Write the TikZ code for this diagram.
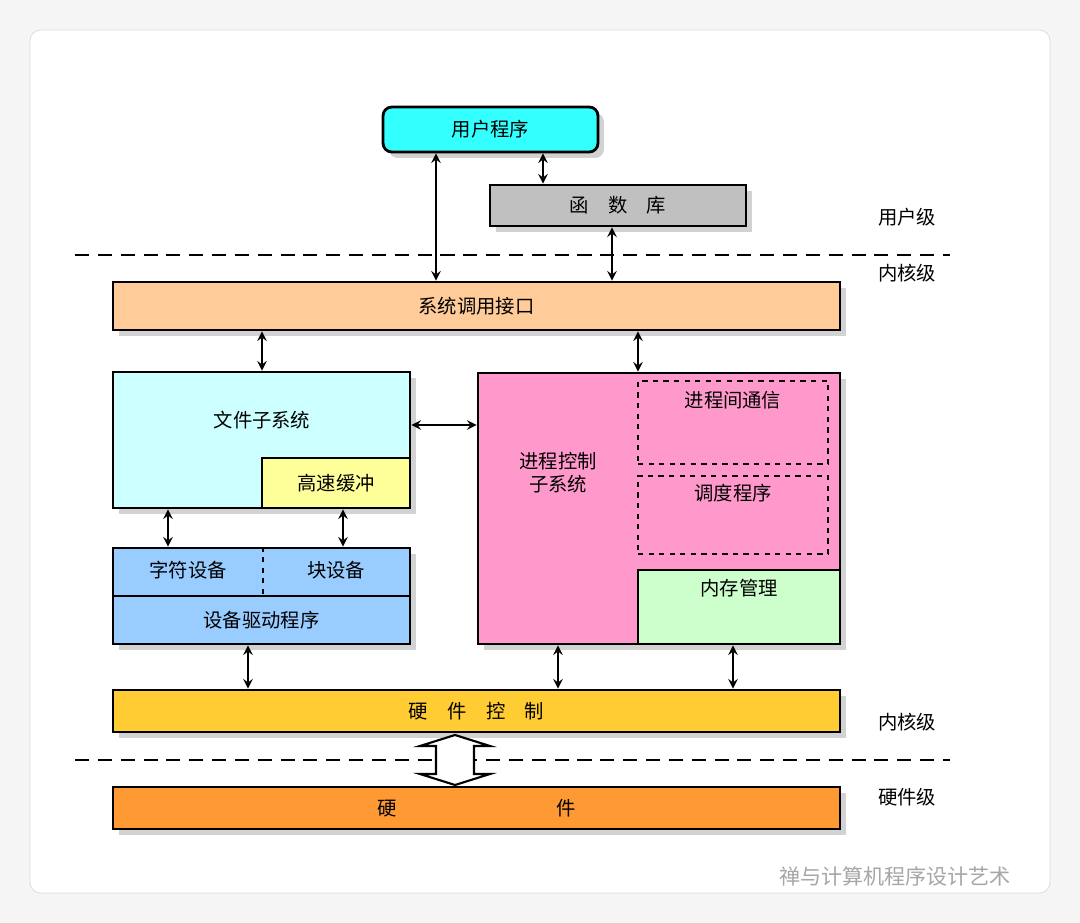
\documentclass[tikz,border=0pt]{standalone}
\usepackage{fontspec}
\setmainfont{Noto Sans CJK SC}
\usepackage{xcolor}
\usetikzlibrary{arrows,shapes,positioning,shadows,calc}
\definecolor{cyanbox}{HTML}{33FFFF}
\definecolor{libgray}{HTML}{C0C0C0}
\definecolor{peach}{HTML}{FFCC99}
\definecolor{filecyan}{HTML}{CCFFFF}
\definecolor{bufyellow}{HTML}{FFFF99}
\definecolor{devblue}{HTML}{99CCFF}
\definecolor{procpink}{HTML}{FF99CC}
\definecolor{memgreen}{HTML}{CCFFCC}
\definecolor{hwgold}{HTML}{FFCC33}
\definecolor{hworange}{HTML}{FF9933}
\tikzset{
  blk/.style={draw, line width=1.6pt, inner sep=0pt, drop shadow={opacity=0.35, shadow xshift=0.12cm, shadow yshift=-0.12cm}},
  sub/.style={draw, line width=1.6pt, inner sep=0pt},
  dbox/.style={draw, dashed, line width=1.2pt, inner sep=0pt},
  lbl/.style={font=\fontsize{11}{13}\selectfont},
  lvl/.style={font=\fontsize{11}{13}\selectfont},
  sep/.style={dashed, line width=1.4pt, dash pattern=on 8pt off 5pt},
  link/.style={<->, >=stealth, line width=1.4pt}
}
\begin{document}
\begin{tikzpicture}[x=0.02cm, y=-0.02cm]
    \useasboundingbox (0,0) rectangle (1080,923);
    \fill[gray!8] (0,0) rectangle (1080,923);
    \draw[gray!30, fill=white, rounded corners=6pt] (30,30) rectangle (1050,893);

    % User level
    \node[blk, fill=cyanbox, rounded corners=5pt, minimum width=4.3cm, minimum height=0.9cm, lbl] (userprog) at (490.5,129.5) {用户程序};
    \node[blk, fill=libgray, minimum width=5.12cm, minimum height=0.82cm, lbl] (lib) at (618,205.5) {函\quad 数\quad 库};
    \node[lvl] (lvuser) at (907,217) {用户级};
    \coordinate (sepa) at (75,255);
    \coordinate (sepb) at (950,255);
    \draw[sep] (sepa) -- (sepb);
    \node[lvl] (lvkern) at (907,273) {内核级};

    % Kernel level
    \node[blk, fill=peach, minimum width=14.54cm, minimum height=0.96cm, lbl] (syscall) at (476.5,306) {系统调用接口};
    \node[blk, fill=filecyan, minimum width=5.94cm, minimum height=2.72cm] (filesys) at (261.5,440) {};
    \node[lbl] (filelbl) at (262,420) {文件子系统};
    \node[sub, fill=bufyellow, minimum width=2.96cm, minimum height=1.0cm, lbl] (cache) at (336,483) {高速缓冲};
    \node[blk, fill=devblue, minimum width=5.94cm, minimum height=0.96cm] (devs) at (261.5,572) {};
    \node[lbl] (chardev) at (188,570) {字符设备};
    \node[lbl] (blockdev) at (336,570) {块设备};
    \draw[dashed, line width=1.2pt] (devs.north -| 263,0) -- (devs.south -| 263,0);
    \node[blk, fill=devblue, minimum width=5.94cm, minimum height=0.96cm, lbl] (driver) at (261.5,620) {设备驱动程序};

    \node[blk, fill=procpink, minimum width=7.24cm, minimum height=5.42cm] (proc) at (659,508.5) {};
    \node[lbl, align=center] (proclbl) at (558,473) {进程控制\\子系统};
    \node[dbox, minimum width=3.8cm, minimum height=1.66cm] (ipc) at (733,422.5) {};
    \node[lbl] (ipclbl) at (733,400) {进程间通信};
    \node[dbox, minimum width=3.8cm, minimum height=1.56cm] (sched) at (733,515) {};
    \node[lbl] (schedlbl) at (733,493) {调度程序};
    \node[sub, fill=memgreen, minimum width=4.04cm, minimum height=1.48cm] (mem) at (739,607) {};
    \node[lbl] (memlbl) at (739,588) {内存管理};

    \node[blk, fill=hwgold, minimum width=14.54cm, minimum height=0.84cm, lbl] (hwctl) at (476.5,711) {硬\quad 件\quad 控\quad 制};
    \node[lvl] (lvkern2) at (907,722) {内核级};
    \coordinate (sepc) at (75,760);
    \coordinate (sepd) at (950,760);
    \draw[sep] (sepc) -- (sepd);

    % Hardware level
    \node[blk, fill=hworange, minimum width=14.54cm, minimum height=0.84cm, lbl] (hw) at (476.5,808) {硬\hspace{3.2cm}件};
    \node[lvl] (lvhw) at (907,797) {硬件级};
    \draw[line width=1.2pt, fill=white]
      (455,735) -- (490,746) -- (474,746) -- (474,774) -- (490,774) -- (455,785)
      -- (420,774) -- (436,774) -- (436,746) -- (420,746) -- cycle;

    % Connect nodes
    \draw[link] (userprog.south -| 436,0) -- (syscall.north -| 436,0);
    \draw[link] (userprog.south -| 543,0) -- (lib.north -| 543,0);
    \draw[link] (lib.south -| 612,0) -- (syscall.north -| 612,0);
    \draw[link] (syscall.south -| 262,0) -- (filesys.north -| 262,0);
    \draw[link] (syscall.south -| 638,0) -- (proc.north -| 638,0);
    \draw[link] (filesys.east |- 0,425) -- (proc.west |- 0,425);
    \draw[link] (filesys.south -| 168,0) -- (devs.north -| 168,0);
    \draw[link] (cache.south -| 343,0) -- (devs.north -| 343,0);
    \draw[link] (driver.south -| 248,0) -- (hwctl.north -| 248,0);
    \draw[link] (proc.south -| 558,0) -- (hwctl.north -| 558,0);
    \draw[link] (mem.south -| 733,0) -- (hwctl.north -| 733,0);

    % Watermark
    \node[text=gray!70, font=\fontsize{12}{14}\selectfont] (mark) at (895,876) {禅与计算机程序设计艺术};
\end{tikzpicture}
\end{document}
